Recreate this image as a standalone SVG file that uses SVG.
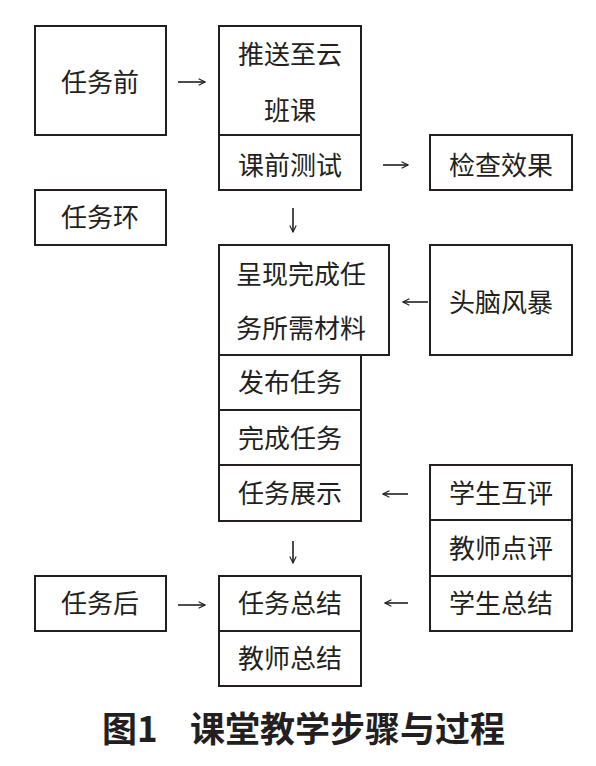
<svg xmlns="http://www.w3.org/2000/svg" width="596" height="766" viewBox="0 0 596 766">
<defs>
<style>
.b{fill:#fff;stroke:#231f20;stroke-width:2}
.t{font-family:"Noto Sans CJK SC","Noto Sans",sans-serif;font-size:26px;fill:#231f20;text-anchor:middle}
.c{stroke:#231f20;stroke-width:1.6;fill:none}
.ttl{font-family:"Noto Sans CJK SC","Noto Sans",sans-serif;font-size:35px;font-weight:bold;fill:#231f20}
</style>
<marker id="ah" viewBox="0 0 10 10" refX="9" refY="5" markerWidth="8" markerHeight="8" markerUnits="userSpaceOnUse" orient="auto">
<path d="M1,1 L9,5 L1,9" fill="none" stroke="#231f20" stroke-width="1.4"/>
</marker>
</defs>
<rect width="596" height="766" fill="#fff"/>

<g id="before">
<rect class="b" x="35" y="26" width="131" height="109"/>
<text class="t" x="100" y="92">任务前</text>
</g>
<g id="push">
<rect class="b" x="219" y="26" width="142" height="109"/>
<text class="t" x="290" y="64">推送至云</text>
<text class="t" x="290" y="120">班课</text>
</g>
<g id="pretest">
<rect class="b" x="219" y="135" width="142" height="55"/>
<text class="t" x="290" y="175">课前测试</text>
</g>
<g id="check">
<rect class="b" x="430" y="135" width="142" height="55"/>
<text class="t" x="501" y="175">检查效果</text>
</g>
<g id="ring">
<rect class="b" x="35" y="190" width="131" height="55"/>
<text class="t" x="100" y="227">任务环</text>
</g>
<g id="present">
<rect class="b" x="219" y="245" width="170" height="110"/>
<text class="t" x="301" y="284">呈现完成任</text>
<text class="t" x="301" y="338">务所需材料</text>
</g>
<g id="brain">
<rect class="b" x="430" y="245" width="142" height="110"/>
<text class="t" x="501" y="312">头脑风暴</text>
</g>
<g id="publish">
<rect class="b" x="219" y="355" width="142" height="55"/>
<text class="t" x="290" y="392">发布任务</text>
</g>
<g id="complete">
<rect class="b" x="219" y="410" width="142" height="55"/>
<text class="t" x="290" y="448">完成任务</text>
</g>
<g id="show">
<rect class="b" x="219" y="465" width="142" height="56"/>
<text class="t" x="290" y="503">任务展示</text>
</g>
<g id="peer">
<rect class="b" x="430" y="465" width="142" height="55"/>
<text class="t" x="501" y="503">学生互评</text>
</g>
<g id="teacher-review">
<rect class="b" x="430" y="520" width="142" height="56"/>
<text class="t" x="501" y="558">教师点评</text>
</g>
<g id="student-sum">
<rect class="b" x="430" y="576" width="142" height="55"/>
<text class="t" x="501" y="613">学生总结</text>
</g>
<g id="after">
<rect class="b" x="35" y="576" width="131" height="55"/>
<text class="t" x="100" y="613">任务后</text>
</g>
<g id="task-sum">
<rect class="b" x="219" y="576" width="142" height="55"/>
<text class="t" x="290" y="613">任务总结</text>
</g>
<g id="teacher-sum">
<rect class="b" x="219" y="631" width="142" height="55"/>
<text class="t" x="290" y="668">教师总结</text>
</g>

<g id="connectors">
<path class="c" d="M178,82 H205" marker-end="url(#ah)"/>
<path class="c" d="M383,165 H408" marker-end="url(#ah)"/>
<path class="c" d="M293,208 V232" marker-end="url(#ah)"/>
<path class="c" d="M428,302 H403" marker-end="url(#ah)"/>
<path class="c" d="M408,494 H383" marker-end="url(#ah)"/>
<path class="c" d="M293,541 V563" marker-end="url(#ah)"/>
<path class="c" d="M178,605 H205" marker-end="url(#ah)"/>
<path class="c" d="M408,603 H385" marker-end="url(#ah)"/>
</g>

<text class="ttl" y="742"><tspan x="102">图1</tspan><tspan x="190">课堂教学步骤与过程</tspan></text>
</svg>
